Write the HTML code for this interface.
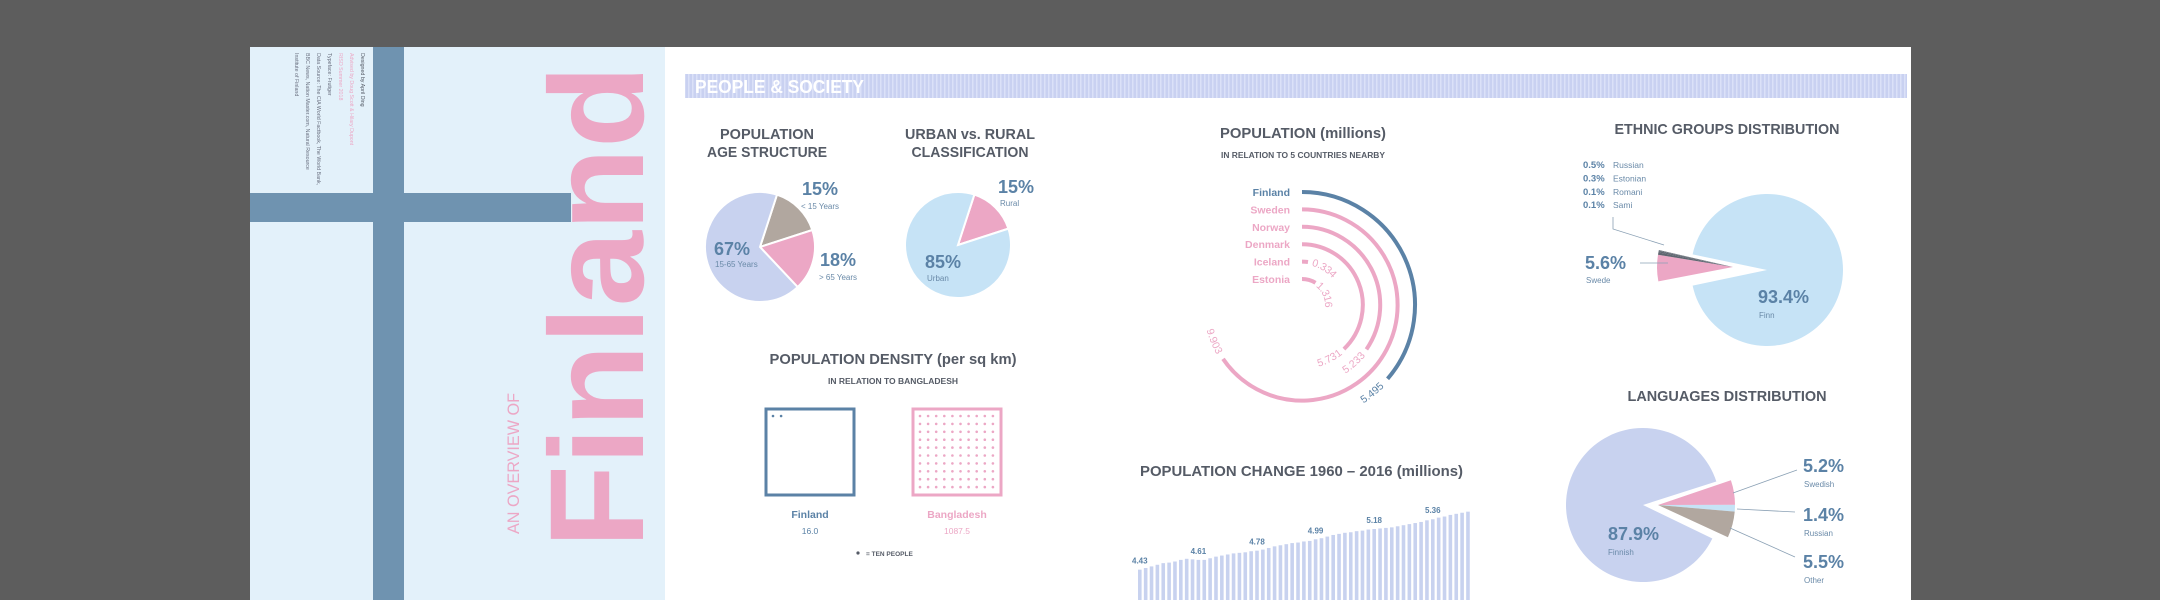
<!DOCTYPE html>
<html><head><meta charset="utf-8"><style>
html,body{margin:0;padding:0;background:#5d5d5d;}
svg{display:block;font-family:"Liberation Sans",sans-serif;}
</style></head><body>
<svg id="s" width="2160" height="600" viewBox="0 0 2160 600" xmlns="http://www.w3.org/2000/svg">
<defs>
<pattern id="stripes" width="4" height="10" patternUnits="userSpaceOnUse"><rect width="4" height="10" fill="#c9d1f1"/><rect width="1.5" height="10" fill="#dbe1f8"/></pattern>
</defs>
<rect x="0" y="0" width="2160" height="600" fill="#5d5d5d"/>
<rect x="250" y="47" width="1661" height="553" fill="#ffffff"/>
<g>
<rect x="250" y="47" width="415" height="553" fill="#e3f1fa"/>
<rect x="373" y="47" width="31" height="553" fill="#6f93b0"/>
<rect x="250" y="193" width="321" height="29" fill="#6f93b0"/>
<text transform="translate(643,548) rotate(-90)" font-size="134" font-weight="bold" fill="#eca7c5" textLength="483" lengthAdjust="spacingAndGlyphs">Finland</text>
<text transform="translate(519,534) rotate(-90)" font-size="17" fill="#eca7c5" textLength="141" lengthAdjust="spacingAndGlyphs">AN OVERVIEW OF</text>
<g font-size="5.3">
<text transform="translate(361,53) rotate(90)" fill="#555b66">Designed by April Ding</text>
<text transform="translate(350,53) rotate(90)" fill="#eca7c5">Advised by Doug Scott &amp; Hilary Dupont</text>
<text transform="translate(339,53) rotate(90)" fill="#eca7c5">RISD Summer 2018</text>
<text transform="translate(328,53) rotate(90)" fill="#6a7080">Typeface: Frutiger</text>
<text transform="translate(317,53) rotate(90)" fill="#6a7080">Data Source: The CIA World Factbook, The World Bank,</text>
<text transform="translate(306,53) rotate(90)" fill="#6a7080">BBC News, Nation Master.com, Natural Resource</text>
<text transform="translate(295,53) rotate(90)" fill="#6a7080">Institute of Finland</text>
</g>
</g>
<rect x="685" y="74" width="1222" height="24" fill="url(#stripes)"/>
<text x="695" y="93" font-size="18" font-weight="bold" fill="#ffffff" textLength="169" lengthAdjust="spacingAndGlyphs">PEOPLE &amp; SOCIETY</text>

<g font-weight="bold" fill="#555b66" font-size="15" text-anchor="middle">
<text x="767" y="139" textLength="94" lengthAdjust="spacingAndGlyphs">POPULATION</text>
<text x="767" y="157" textLength="120" lengthAdjust="spacingAndGlyphs">AGE STRUCTURE</text>
<text x="970" y="139" textLength="130" lengthAdjust="spacingAndGlyphs">URBAN vs. RURAL</text>
<text x="970" y="157" textLength="117" lengthAdjust="spacingAndGlyphs">CLASSIFICATION</text>
<text x="893" y="364" textLength="247" lengthAdjust="spacingAndGlyphs">POPULATION DENSITY (per sq km)</text>
<text x="893" y="384" font-size="8" textLength="130" lengthAdjust="spacingAndGlyphs">IN RELATION TO BANGLADESH</text>
<text x="1303" y="138" textLength="166" lengthAdjust="spacingAndGlyphs">POPULATION (millions)</text>
<text x="1303" y="158" font-size="8" textLength="164" lengthAdjust="spacingAndGlyphs">IN RELATION TO 5 COUNTRIES NEARBY</text>
<text x="1140" y="476" text-anchor="start" textLength="323" lengthAdjust="spacingAndGlyphs">POPULATION CHANGE 1960 – 2016 (millions)</text>
<text x="1727" y="134" textLength="225" lengthAdjust="spacingAndGlyphs">ETHNIC GROUPS DISTRIBUTION</text>
<text x="1727" y="401" textLength="199" lengthAdjust="spacingAndGlyphs">LANGUAGES DISTRIBUTION</text>
</g>
<g id="charts"></g>
</svg>
<script>
// ---- data ----
var ageLabels = ["< 15 Years", "> 65 Years", "15-65 Years"];
var ageValues = [15, 18, 67];
var urbanLabels = ["Rural", "Urban"];
var urbanValues = [15, 85];
var densityCountries = ["Finland", "Bangladesh"];
var densityValues = [16.0, 1087.5];
var popCountries = ["Finland", "Sweden", "Norway", "Denmark", "Iceland", "Estonia"];
var popValues = [5.495, 9.903, 5.233, 5.731, 0.334, 1.316];
var changeYears = [];
for (var yy = 1960; yy <= 2016; yy++) changeYears.push(yy);
var changeValues = [4.43,4.46,4.49,4.52,4.55,4.56,4.58,4.61,4.63,4.62,4.61,4.61,4.64,4.67,4.69,4.71,4.73,4.74,4.75,4.77,4.78,4.80,4.83,4.86,4.88,4.90,4.92,4.93,4.95,4.96,4.99,5.01,5.04,5.07,5.09,5.11,5.12,5.14,5.15,5.17,5.18,5.19,5.20,5.21,5.23,5.25,5.27,5.29,5.31,5.34,5.36,5.39,5.41,5.44,5.46,5.48,5.50];
var changeLabelIdx = [0, 10, 20, 30, 40, 50];
var ethnicLabels = ["Finn", "Swede", "Russian", "Estonian", "Romani", "Sami"];
var ethnicValues = [93.4, 5.6, 0.5, 0.3, 0.1, 0.1];
var langLabels = ["Finnish", "Swedish", "Russian", "Other"];
var langValues = [87.9, 5.2, 1.4, 5.5];

var NS = "http://www.w3.org/2000/svg";
var root = document.getElementById("charts");
function mk(tag, attrs, parent) {
  var e = document.createElementNS(NS, tag);
  for (var k in attrs) e.setAttribute(k, attrs[k]);
  (parent || root).appendChild(e);
  return e;
}
function txt(x, y, s, size, fill, weight, anchor) {
  var t = mk("text", {x: x, y: y, "font-size": size, fill: fill, "font-weight": weight || "normal", "text-anchor": anchor || "start"});
  t.textContent = s;
  return t;
}
function rad(d) { return d * Math.PI / 180; }
function wedge(cx, cy, r, a0, a1) {
  var x0 = cx + r * Math.cos(rad(a0)), y0 = cy + r * Math.sin(rad(a0));
  var x1 = cx + r * Math.cos(rad(a1)), y1 = cy + r * Math.sin(rad(a1));
  var large = (a1 - a0) > 180 ? 1 : 0;
  return "M" + cx + " " + cy + "L" + x0 + " " + y0 + "A" + r + " " + r + " 0 " + large + " 1 " + x1 + " " + y1 + "Z";
}
function pct(v, tot) { return v / tot * 360; }
var BLUE = "#5b82a6", PINK = "#eca7c5", LAV = "#c8d2ef", BEIGE = "#b1a79f", LBLUE = "#c6e3f6";

// ---- age pie ----
(function () {
  var cx = 760, cy = 247, r = 55, tot = 100;
  var a = -72, cols = [BEIGE, PINK, LAV];
  var names = ["age-slice-under-15", "age-slice-over-65", "age-slice-15-65"];
  for (var i = 0; i < ageValues.length; i++) {
    var d = pct(ageValues[i], tot);
    var p = mk("path", {d: wedge(cx, cy, r, a, a + d), fill: cols[i], stroke: "#fff", "stroke-width": 2});
    
    
    a += d;
  }
  var t;
  t = txt(802, 195, ageValues[0] + "%", 18, BLUE, "bold");  
  t = txt(801, 209, ageLabels[0], 8, "#6a8aa8");  
  t = txt(820, 266, ageValues[1] + "%", 18, BLUE, "bold");  
  t = txt(819, 280, ageLabels[1], 8, "#6a8aa8");  
  t = txt(714, 255, ageValues[2] + "%", 18, BLUE, "bold");  
  t = txt(715, 267, ageLabels[2], 8, "#6a8aa8");  
})();

// ---- urban pie ----
(function () {
  var cx = 958, cy = 245, r = 53;
  var a = -72, cols = [PINK, LBLUE];
  var names = ["urban-slice-rural", "urban-slice-urban"];
  for (var i = 0; i < urbanValues.length; i++) {
    var d = pct(urbanValues[i], 100);
    var p = mk("path", {d: wedge(cx, cy, r, a, a + d), fill: cols[i], stroke: "#fff", "stroke-width": 2});
    
    
    a += d;
  }
  var t;
  t = txt(998, 193, urbanValues[0] + "%", 18, BLUE, "bold");  
  t = txt(1000, 206, urbanLabels[0], 8, "#6a8aa8");  
  t = txt(925, 268, urbanValues[1] + "%", 18, BLUE, "bold");  
  t = txt(927, 281, urbanLabels[1], 8, "#6a8aa8");  
})();

// ---- density ----
(function () {
  var boxes = [{x: 766, c: BLUE}, {x: 913, c: PINK}];
  for (var i = 0; i < densityValues.length; i++) {
    var b = boxes[i];
    var rr = mk("rect", {x: b.x, y: 409, width: 88, height: 86, fill: "none", stroke: b.c, "stroke-width": 3});
    
    
    var n = Math.min(100, Math.round(densityValues[i] / 10));
    for (var k = 0; k < n; k++) {
      var col = k % 10, row = Math.floor(k / 10);
      var dot = mk("circle", {cx: b.x + 7 + col * 8.1, cy: 416 + row * 7.9, r: 1.3, fill: b.c});
      
      
    }
    var t = txt(b.x + 44, 518, densityCountries[i], 10.5, b.c, "bold", "middle");
    
    
    t = txt(b.x + 44, 534, densityValues[i].toFixed(1), 8.5, b.c, "normal", "middle");
    
    
  }
  var c = mk("circle", {cx: 858, cy: 553, r: 1.6, fill: "#555b66"});
  
  
  var t2 = txt(866, 556, "= TEN PEOPLE", 6.5, "#555b66", "bold");
  
  
})();

// ---- population arcs ----
(function () {
  var cx = 1302, cy = 305, r0 = 113, step = 17.4, degPerM = 23.8;
  function pt(r, th) { return [cx + r * Math.sin(rad(th)), cy - r * Math.cos(rad(th))]; }
  function arcPath(r, t0, t1, cw) {
    var p0 = pt(r, t0), p1 = pt(r, t1);
    var large = Math.abs(t1 - t0) > 180 ? 1 : 0;
    return "M" + p0[0] + " " + p0[1] + "A" + r + " " + r + " 0 " + large + " " + (cw ? 1 : 0) + " " + p1[0] + " " + p1[1];
  }
  for (var i = 0; i < popValues.length; i++) {
    var r = r0 - i * step;
    var col = i === 0 ? BLUE : PINK;
    var th = popValues[i] * degPerM;
    var a = mk("path", {d: arcPath(r, 0, Math.max(th, 1), true), fill: "none", stroke: col, "stroke-width": 4});
    
    
    var n = txt(1290, cy - r + 4, popCountries[i], 10.5, col, "bold", "end");
    
    
    var id = "lp" + i;
    var t = mk("text", {"font-size": 10.5, fill: col, "dominant-baseline": "middle"});
    
    
    var tp;
    if (popValues[i] > 3) {
      mk("path", {id: id, d: arcPath(r, th + 4 + 80, th + 4, false), fill: "none"});
      tp = mk("textPath", {href: "#" + id, startOffset: "100%", "text-anchor": "end"}, t);
    } else {
      mk("path", {id: id, d: arcPath(r, th + 6, th + 170, true), fill: "none"});
      tp = mk("textPath", {href: "#" + id, startOffset: "0%"}, t);
    }
    tp.textContent = popValues[i].toFixed(3);
  }
})();

// ---- population change bars ----
(function () {
  var x0 = 1138, dx = 5.86, bw = 3.6, base = 3.87, k = 54.2;
  function y(v) { return 600 - (v - base) * k; }
  for (var i = 0; i < changeValues.length; i++) {
    var b = mk("rect", {x: x0 + i * dx, y: y(changeValues[i]), width: bw, height: 600 - y(changeValues[i]), fill: "#c8d2ef"});
    
    
  }
  for (var j = 0; j < changeLabelIdx.length; j++) {
    var idx = changeLabelIdx[j];
    var t = txt(x0 + idx * dx + bw / 2, y(changeValues[idx]) - 6, changeValues[idx].toFixed(2), 8, "#5b82a6", "bold", "middle");
    
    
  }
})();

// ---- ethnic pie ----
(function () {
  var cx = 1767, cy = 270, r = 76, off = 34;
  var finnDeg = pct(ethnicValues[0], 100);
  var gap = 360 - finnDeg;
  var a0 = 180 + gap / 2;
  var p = mk("path", {d: wedge(cx, cy, r, a0, a0 + finnDeg), fill: LBLUE});
  
  
  var a = 180 - gap / 2 + 1;
  var ocx = cx - off, cols = [PINK, "#5e6670", "#5e6670", "#5e6670", "#5e6670"];
  for (var i = 1; i < ethnicValues.length; i++) {
    var d = pct(ethnicValues[i], 100);
    var s = mk("path", {d: wedge(ocx, cy - 3, r, a, a + d), fill: cols[i - 1]});
    
    
    a += d;
  }
  var ly = 168;
  for (var j = 2; j < ethnicValues.length; j++) {
    var t = txt(1583, ly, ethnicValues[j].toFixed(1) + "%", 9.5, BLUE, "bold");
    
    
    t = txt(1613, ly, ethnicLabels[j], 8.5, "#6a8aa8");
    
    
    ly += 13.4;
  }
  var l = mk("polyline", {points: "1613,217 1613,229 1664,245", fill: "none", stroke: "#8aa0b4", "stroke-width": 0.8});
  
  
  l = mk("line", {x1: 1640, y1: 263, x2: 1668, y2: 263, stroke: "#8aa0b4", "stroke-width": 0.8});
  
  
  var t2 = txt(1585, 269, ethnicValues[1] + "%", 18, BLUE, "bold");
   
  t2 = txt(1586, 283, ethnicLabels[1], 8, "#6a8aa8");
   
  t2 = txt(1758, 303, ethnicValues[0] + "%", 18, BLUE, "bold");
   
  t2 = txt(1759, 318, ethnicLabels[0], 8, "#6a8aa8");
   
})();

// ---- languages pie ----
(function () {
  var cx = 1643, cy = 505, r = 77, off = 15;
  var fd = pct(langValues[0], 100);
  var gap = 360 - fd;
  var p = mk("path", {d: wedge(cx, cy, r, gap / 2 + 4, gap / 2 + 4 + fd), fill: LAV});
  
  
  var a = -gap / 2 + 3;
  var cols = [PINK, LBLUE, BEIGE];
  for (var i = 1; i < langValues.length; i++) {
    var d = pct(langValues[i], 100);
    var s = mk("path", {d: wedge(cx + off, cy, r, a, a + d), fill: cols[i - 1]});
    
    
    a += d;
  }
  var lines = [[1733, 493, 1797, 470], [1737, 509, 1795, 512], [1730, 528, 1795, 557]];
  var ys = [472, 521, 568];
  for (var j = 0; j < 3; j++) {
    var L = lines[j];
    var l = mk("line", {x1: L[0], y1: L[1], x2: L[2], y2: L[3], stroke: "#8aa0b4", "stroke-width": 0.8});
    
    
    var t = txt(1803, ys[j], langValues[j + 1] + "%", 18, BLUE, "bold");
    
    
    t = txt(1804, ys[j] + 15, langLabels[j + 1], 8, "#6a8aa8");
    
    
  }
  var t2 = txt(1608, 540, langValues[0] + "%", 18, BLUE, "bold");
   
  t2 = txt(1608, 555, langLabels[0], 8, "#6a8aa8");
   
})();
</script>
</body></html>
